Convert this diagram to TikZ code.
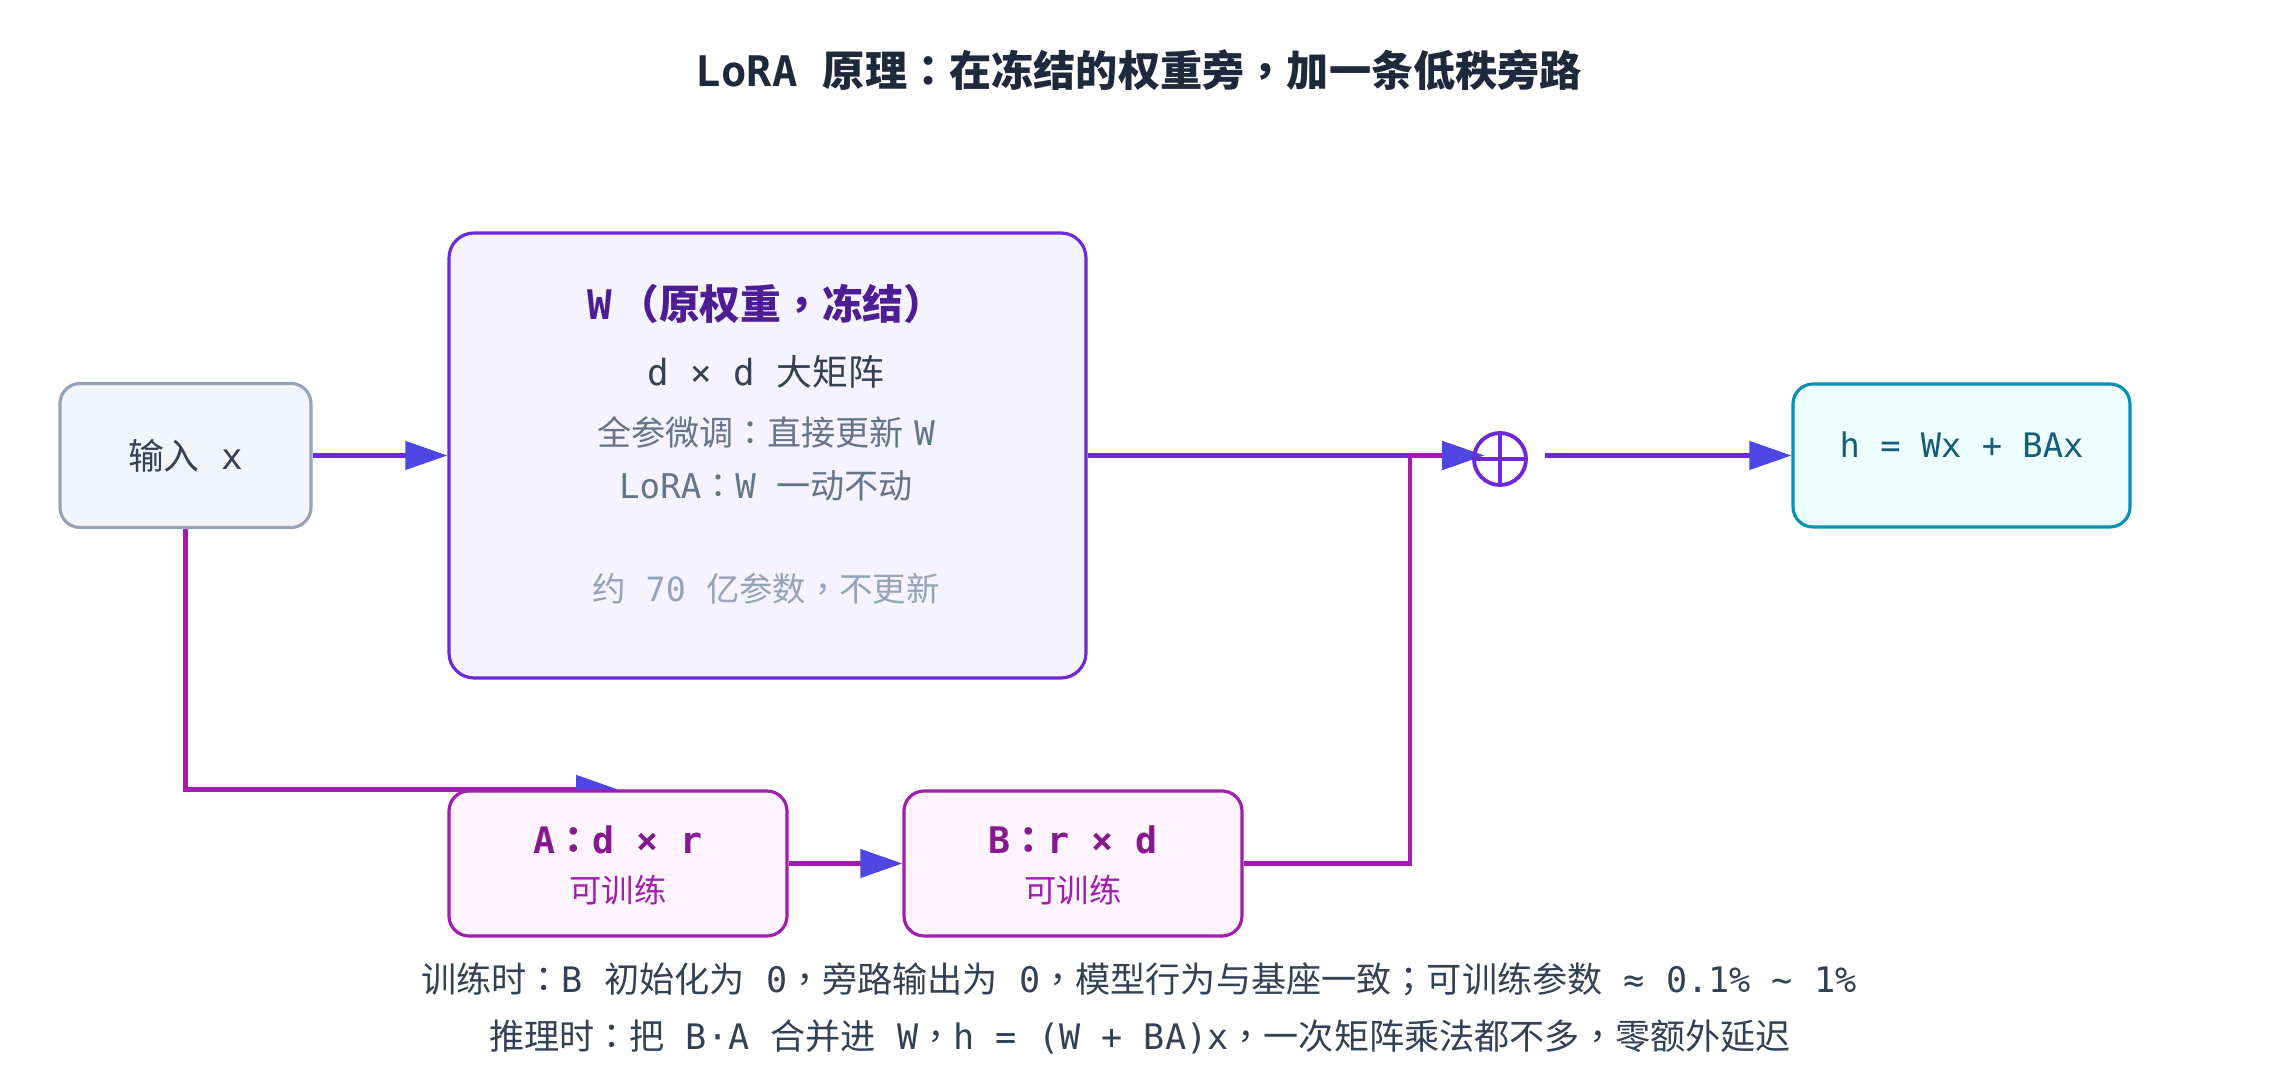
\documentclass[tikz,border=0pt]{standalone}
\usepackage{fontspec}
\setmainfont{Noto Sans CJK SC}
\newfontfamily\monof{DejaVu Sans Mono}
\newfontfamily\tcfont{Noto Sans CJK TC}
\newcommand{\mt}[1]{{\monof #1}}
\newcommand{\pc}[1]{{\tcfont #1}}
\usepackage{color}
\usetikzlibrary{arrows.meta, shapes}
\pgfdeclarelayer{bg}
\pgfsetlayers{bg,main}

\definecolor{slateink}{HTML}{1E293B}
\definecolor{bodyink}{HTML}{334155}
\definecolor{greyink}{HTML}{64748B}
\definecolor{paleink}{HTML}{94A3B8}
\definecolor{infill}{HTML}{F1F5F9}
\definecolor{wfill}{HTML}{F5F3FF}
\definecolor{wedge}{HTML}{6D28D9}
\definecolor{wink}{HTML}{4C1D95}
\definecolor{lorafill}{HTML}{FDF4FF}
\definecolor{loraedge}{HTML}{A21CAF}
\definecolor{loraink}{HTML}{86198F}
\definecolor{outfill}{HTML}{ECFEFF}
\definecolor{outedge}{HTML}{0891B2}
\definecolor{outink}{HTML}{155E75}
\definecolor{tipcol}{HTML}{4F46E5}

\begin{document}
\begin{tikzpicture}[
	box/.style={draw, rounded corners=0.2cm, line width=0.9pt, inner sep=0pt},
	inbox/.style={box, draw=paleink, fill=infill, text=bodyink, minimum width=2.51cm, minimum height=1.44cm, font=\fontsize{10.2}{12}\selectfont},
	wbox/.style={box, draw=wedge, fill=wfill, minimum width=6.37cm, minimum height=4.45cm, rounded corners=0.25cm},
	lowrank/.style={box, draw=loraedge, fill=lorafill, minimum width=3.38cm, minimum height=1.45cm},
	outbox/.style={box, draw=outedge, fill=outfill, minimum width=3.37cm, minimum height=1.43cm},
	plus/.style={circle, draw=wedge, line width=1.1pt, minimum size=0.52cm, inner sep=0pt,
		path picture={\draw[wedge, line width=1.1pt] (path picture bounding box.north) -- (path picture bounding box.south) (path picture bounding box.west) -- (path picture bounding box.east);}},
	heading/.style={text=slateink, font=\fontsize{12}{14}\selectfont\bfseries},
	wtitle/.style={text=wink, font=\fontsize{11.6}{14}\selectfont\bfseries},
	wmain/.style={text=bodyink, font=\fontsize{10.2}{12}\selectfont},
	wnote/.style={text=greyink, font=\fontsize{9.7}{12}\selectfont},
	wfaint/.style={text=paleink, font=\fontsize{9.5}{12}\selectfont},
	outtext/.style={text=outink, font=\fontsize{9.6}{12}\selectfont},
	lrtitle/.style={text=loraink, font=\fontsize{10.4}{12}\selectfont\bfseries},
	lrnote/.style={text=loraedge, font=\fontsize{9.2}{12}\selectfont},
	foot/.style={text=bodyink, font=\fontsize{10}{12}\selectfont},
	flow/.style={draw=wedge, line width=1.2pt, -{Triangle[length=0.42cm, width=0.28cm, color=tipcol]}},
	side/.style={flow, draw=loraedge}
]
	\begin{pgfonlayer}{bg}
	\fill[white] (0,0) rectangle (22.8,10.8);
	\end{pgfonlayer}
	\useasboundingbox (0,0) rectangle (22.8,10.8);

	\node[heading] (title) at (11.39,10.10) {\mt{LoRA }原理\pc{：}在冻结的权重旁\pc{，}加一条低秩旁路};

	\node[inbox] (in) at (1.855,6.245) {输入\mt{ x}};

	\node[wbox] (W) at (7.675,6.245) {};
	\node[wtitle] (wname) at (7.66,7.76) {\mt{W}\kern0.15em\pc{（}原权重\pc{，}冻结\pc{）}};
	\node[wmain] (wdim) at (7.66,7.08) {\mt{d × d }大矩阵};
	\node[wnote] (wfull) at (7.66,6.48) {全参微调\pc{：}直接更新\kern0.3em\mt{W}};
	\node[wnote] (wlora) at (7.66,5.94) {\mt{LoRA}\pc{：}\mt{W }一动不动};
	\node[wfaint] (wcount) at (7.66,4.91) {约\mt{ 70 }亿参数\pc{，}不更新};

	\node[plus] (sum) at (15.00,6.21) {};

	\node[outbox] (out) at (19.615,6.245) {};
	\node[outtext] (formula) at (19.615,6.35) {\mt{h = Wx + BAx}};

	\node[lowrank] (A) at (6.18,2.165) {};
	\node[lrtitle] (aname) at (6.18,2.40) {\mt{A}\pc{：}\mt{d × r}};
	\node[lrnote] (anote) at (6.18,1.90) {可训练};

	\node[lowrank] (B) at (10.73,2.165) {};
	\node[lrtitle] (bname) at (10.73,2.40) {\mt{B}\pc{：}\mt{r × d}};
	\node[lrnote] (bnote) at (10.73,1.90) {可训练};

	\coordinate (join) at (14.10,6.245);

	\node[foot] (train) at (11.39,1.01) {训练时\pc{：}\mt{B }初始化为\mt{ 0}\pc{，}旁路输出为\mt{ 0}\pc{，}模型行为与基座一致\pc{；}可训练参数\mt{ ≈ 0.1\% \textasciitilde{} 1\%}};
	\node[foot] (infer) at (11.40,0.43) {推理时\pc{：}把\mt{ B·A }合并进\mt{ W}\pc{，}\mt{h = (W + BA)x}\pc{，}一次矩阵乘法都不多\pc{，}零额外延迟};

	\begin{pgfonlayer}{bg}
	\draw[flow] (in.east) -- (W.west);
	\draw[flow, shorten >=-0.12cm] (W.east) -- (W.east -| sum.west);
	\draw[flow, shorten <=0.17cm] (sum.east |- out.west) -- (out.west);
	\draw[side] (in.south) |- (A.north);
	\draw[side] (A.east) -- (B.west);
	\draw[side, shorten >=-0.12cm] (B.east) -| (join) -- (join -| sum.west);
	\end{pgfonlayer}
\end{tikzpicture}
\end{document}
